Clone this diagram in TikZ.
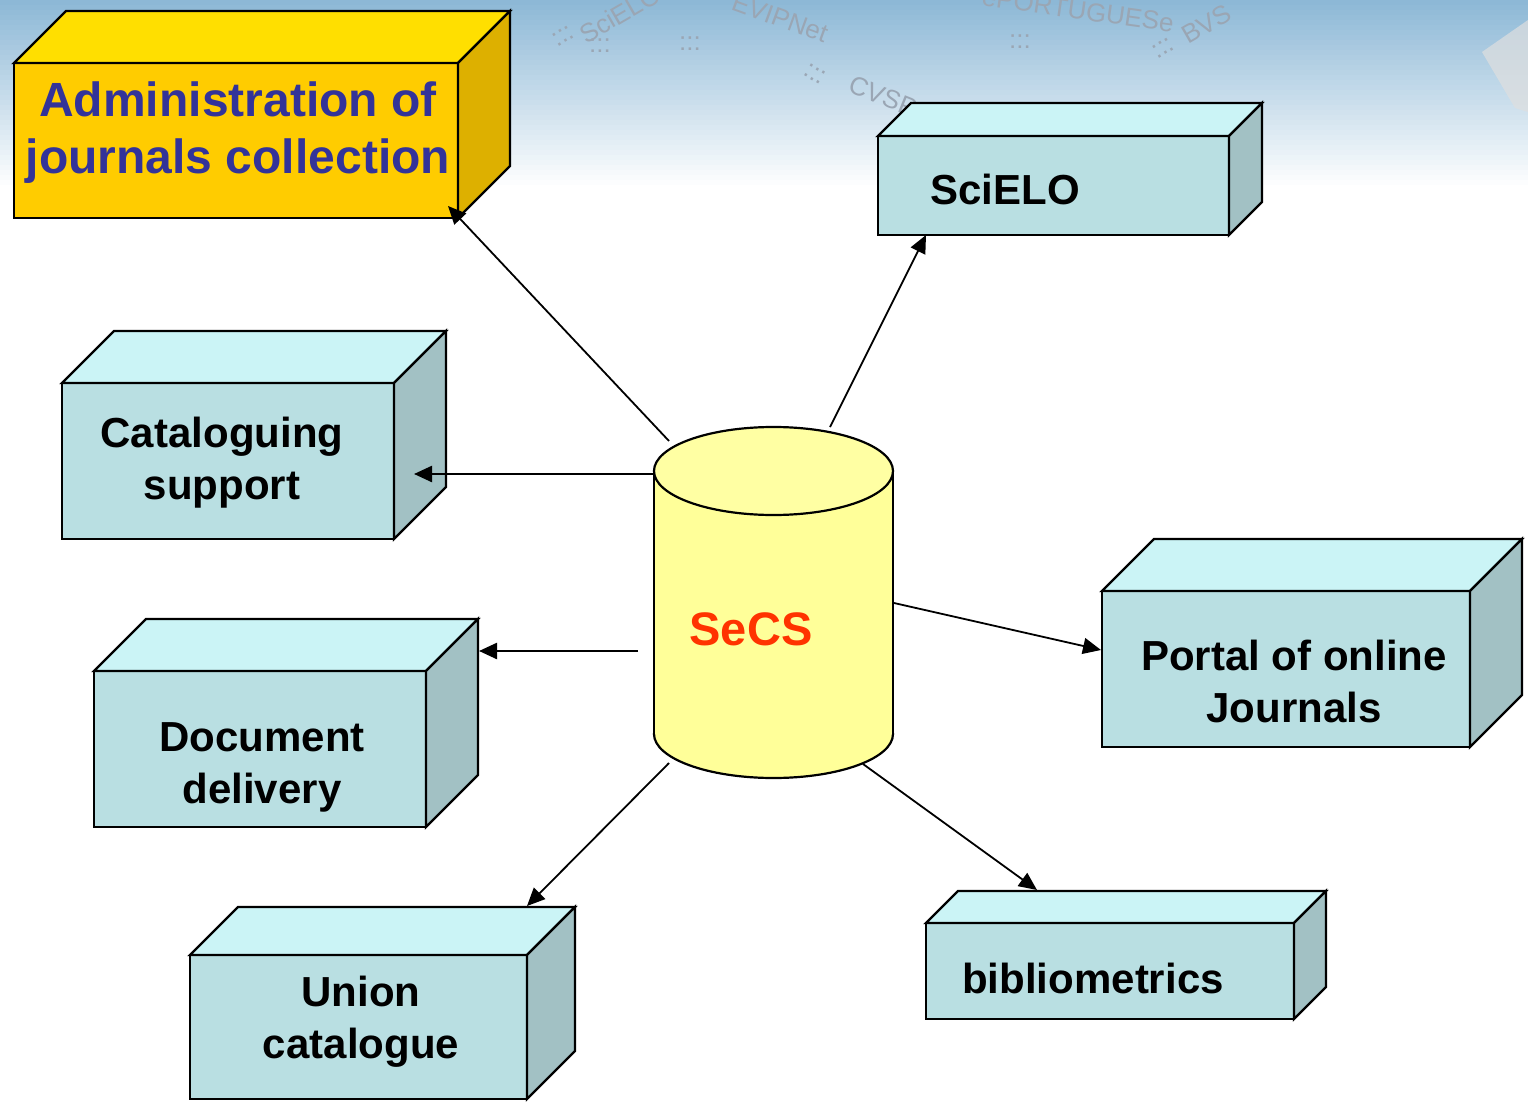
\documentclass[tikz,border=0pt]{standalone}
\usepackage{fontspec}
\setmainfont{Liberation Sans}
\usetikzlibrary{arrows.meta}
\definecolor{cfront}{HTML}{B9DFE2}
\definecolor{ctop}{HTML}{CBF4F6}
\definecolor{cside}{HTML}{A2C1C4}
\definecolor{yfront}{HTML}{FFCC00}
\definecolor{ytop}{HTML}{FFDF00}
\definecolor{yside}{HTML}{DDB000}
\definecolor{cyl}{HTML}{FFFF99}
\definecolor{cyltop}{HTML}{FFFFA3}
\definecolor{adminblue}{HTML}{333399}
\definecolor{secsred}{HTML}{FF3300}
\definecolor{sky}{HTML}{8DB8D6}
\definecolor{faint}{HTML}{9AA6B4}
\newcommand\drawbox[6]{%
  \filldraw[boxline, fill=#6front] (#1,#2) rectangle (#3,#4);
  \filldraw[boxline, fill=#6top] (#1,#2) -- (#1+#5,#2-#5) -- (#3+#5,#2-#5) -- (#3,#2) -- cycle;
  \filldraw[boxline, fill=#6side] (#3,#2) -- (#3+#5,#2-#5) -- (#3+#5,#4-#5) -- (#3,#4) -- cycle;
}
\begin{document}
\begin{tikzpicture}[x=0.5pt,y=-0.5pt,
  boxline/.style={draw=black, line width=1.2pt, line join=miter},
  label/.style={font=\fontsize{21}{26}\selectfont\bfseries, align=center, inner sep=0pt},
  conn/.style={draw=black, line width=0.9pt, -{Triangle[length=9pt,width=8pt]}},
  bgtext/.style={text=faint, font=\fontsize{13}{15}\selectfont, inner sep=0pt}]
\useasboundingbox (0,0) rectangle (1528,1103);
\fill[white] (0,0) rectangle (1528,1103);
% sky banner
\foreach \i in {0,...,39}{
  \pgfmathsetmacro\pc{max(0,100-\i*2.7)}
  \fill[sky!\pc!white] (0,\i*5) rectangle (1528,\i*5+5.5);
}
\fill[gray!25, opacity=0.7] (1482,52) -- (1528,20) -- (1528,112) -- (1515,108) -- cycle;
\node[bgtext, rotate=30] (bg1) at (620,14) {SciELO};
\node[bgtext, rotate=-20] (bg2) at (780,18) {EVIPNet};
\node[bgtext, rotate=-8] (bg3) at (1078,10) {ePORTUGUESe};
\node[bgtext, rotate=30] (bg4) at (1207,24) {BVS};
\node[bgtext, rotate=-22] (bg5) at (883,96) {CVSP};
\node[bgtext] (bg6) at (600,46) {:::};
\node[bgtext] (bg7) at (690,44) {:::};
\node[bgtext, rotate=-30] (bg8) at (815,74) {:::};
\node[bgtext] (bg9) at (1020,42) {:::};
\node[bgtext, rotate=30] (bg10) at (1163,48) {:::};
\node[bgtext, rotate=30] (bg11) at (563,36) {:::};
% boxes
\drawbox{14}{63}{458}{218}{52}{y}
\drawbox{878}{136}{1229}{235}{33}{c}
\drawbox{62}{383}{394}{539}{52}{c}
\drawbox{94}{671}{426}{827}{52}{c}
\drawbox{190}{955}{527}{1099}{48}{c}
\drawbox{1102}{591}{1470}{747}{52}{c}
\drawbox{926}{923}{1294}{1019}{32}{c}
% cylinder
\filldraw[fill=cyl, draw=black, line width=1.1pt] (773.5,734) ellipse (119.5 and 44);
\fill[cyl] (654,471) rectangle (893,734);
\draw[black, line width=1.1pt] (654,471) -- (654,734) (893,471) -- (893,734);
\filldraw[fill=cyltop, draw=black, line width=1.1pt] (773.5,471) ellipse (119.5 and 44);
% labels
\node[label, text=adminblue, font=\fontsize{24}{28.5}\selectfont\bfseries] (admin) at (238,133) {Administration of\\journals collection};
\node[label] (scielo) at (1005,189) {SciELO};
\node[label] (catal) at (222,463) {Cataloguing\\support};
\node[label] (docdel) at (262,767) {Document\\delivery};
\node[label] (union) at (361,1022) {Union\\catalogue};
\node[label] (portal) at (1294,681) {Portal of online\\Journals};
\node[label] (biblio) at (1093,978) {bibliometrics};
\node[label, text=secsred, font=\fontsize{23.5}{28}\selectfont\bfseries] (secs) at (751,629) {SeCS};
% connector endpoints
\coordinate (s1) at (669,441); \coordinate (t1) at (448,206);
\coordinate (s2) at (830,427); \coordinate (t2) at (926,235);
\coordinate (s3) at (654,474); \coordinate (t3) at (414,474);
\coordinate (s4) at (638,651); \coordinate (t4) at (479,651);
\coordinate (s5) at (894,603); \coordinate (t5) at (1101,650);
\coordinate (s6) at (669,763); \coordinate (t6) at (527,906);
\coordinate (s7) at (863,764); \coordinate (t7) at (1037,890);
\draw[conn] (s1) -- (t1);
\draw[conn] (s2) -- (t2);
\draw[conn, line width=1.2pt] (s3) -- (t3);
\draw[conn, line width=1.2pt] (s4) -- (t4);
\draw[conn] (s5) -- (t5);
\draw[conn] (s6) -- (t6);
\draw[conn] (s7) -- (t7);
\end{tikzpicture}
\end{document}
